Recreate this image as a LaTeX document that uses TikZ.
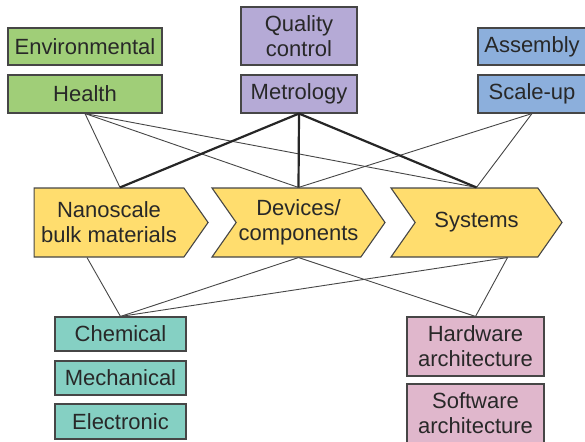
\documentclass[tikz,border=0pt]{standalone}
\usepackage{fontspec}
\setmainfont{Liberation Sans}
\usepackage{xcolor}
\usetikzlibrary{shapes,arrows,positioning,calc}
\definecolor{envgreen}{RGB}{160,206,120}
\definecolor{metpurple}{RGB}{181,170,214}
\definecolor{scaleblue}{RGB}{140,175,220}
\definecolor{stageyellow}{RGB}{255,221,110}
\definecolor{propteal}{RGB}{133,208,195}
\definecolor{archpink}{RGB}{224,183,204}
\definecolor{edgegray}{RGB}{70,70,70}
\definecolor{textgray}{RGB}{40,40,40}

\tikzset{
  tagbox/.style={draw=edgegray, line width=1.1pt, inner sep=0pt, align=center, text=textgray,
    font=\fontsize{22}{25}\selectfont},
  stage/.style={tagbox, shape=signal, signal to=east, signal pointer angle=110,
    fill=stageyellow, minimum width=174pt, minimum height=69pt},
  link/.style={draw=edgegray, line width=0.9pt},
  strong/.style={draw=black!85, line width=2.2pt}
}

\begin{document}
\begin{tikzpicture}[x=1pt, y=-1pt]
    \useasboundingbox (0,0) rectangle (585,441);
    \clip (0,0) rectangle (585,441);

    % top row: concerns
    \node[tagbox, fill=envgreen, minimum width=154pt, minimum height=37pt] (env) at (85,46.5) {Environmental};
    \node[tagbox, fill=envgreen, minimum width=154pt, minimum height=38pt] (health) at (85,94) {Health};
    \node[tagbox, fill=metpurple, minimum width=116pt, minimum height=58pt] (quality) at (299,36) {Quality\\control};
    \node[tagbox, fill=metpurple, minimum width=116pt, minimum height=38pt] (metro) at (299,94) {Metrology};
    \node[tagbox, fill=scaleblue, minimum width=108pt, minimum height=37pt] (assembly) at (532,46.5) {Assembly};
    \node[tagbox, fill=scaleblue, minimum width=108pt, minimum height=38pt] (scaleup) at (532,94) {Scale-up};

    % middle row: stages
    \node[stage] (nano) at (109,222.5) {Nanoscale\\bulk materials};
    \node[stage, signal from=west, minimum width=173pt] (dev) at (298.5,222.5) {Devices/\\components};
    \node[stage, signal from=west, minimum width=171pt] (sys) at (476.5,222.5) {Systems};

    % bottom row: properties and architecture
    \node[tagbox, fill=propteal, minimum width=131pt, minimum height=34pt] (chem) at (120.5,334) {Chemical};
    \node[tagbox, fill=propteal, minimum width=131pt, minimum height=34pt] (mech) at (120.5,378) {Mechanical};
    \node[tagbox, fill=propteal, minimum width=131pt, minimum height=35pt] (elec) at (120.5,421.5) {Electronic};
    \node[tagbox, fill=archpink, minimum width=137pt, minimum height=59pt] (hard) at (475.5,346.5) {Hardware\\architecture};
    \node[tagbox, fill=archpink, minimum width=137pt, minimum height=59pt] (soft) at (475.5,413.5) {Software\\architecture};

    % connections above the stages
    \draw[link] (health.south) -- ([xshift=11pt]nano.north);
    \draw[link] (health.south) -- (dev.north);
    \draw[link] (health.south) -- (sys.north);
    \draw[link] (scaleup.south) -- (dev.north);
    \draw[link] (scaleup.south) -- (sys.north);
    \draw[strong] (metro.south) -- ([xshift=11pt]nano.north);
    \draw[strong] (metro.south) -- (dev.north);
    \draw[strong] (metro.south) -- (sys.north);

    % connections below the stages
    \draw[link] ([xshift=-22pt]nano.south) -- (chem.north);
    \draw[link] (dev.south) -- (chem.north);
    \draw[link] ([xshift=31pt]sys.south) -- (chem.north);
    \draw[link] (dev.south) -- (hard.north);
    \draw[link] ([xshift=31pt]sys.south) -- (hard.north);
\end{tikzpicture}
\end{document}
